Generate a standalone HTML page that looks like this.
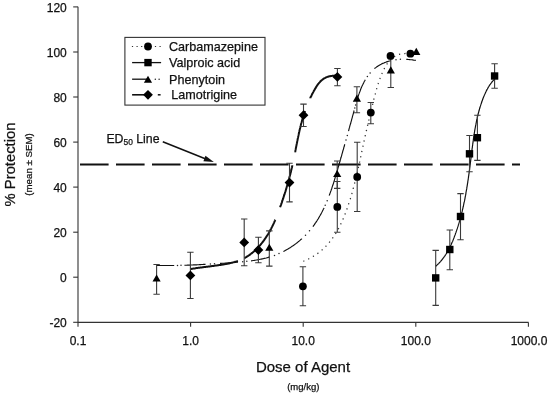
<!DOCTYPE html>
<html><head><meta charset="utf-8"><title>Dose response</title>
<style>
html,body{margin:0;padding:0;background:#fff;}
body{width:550px;height:393px;overflow:hidden;}
svg{display:block;}
text{font-family:"Liberation Sans",Arial,Helvetica,sans-serif;fill:#111;stroke:#111;stroke-width:0.25px;}
</style></head><body>
<svg width="550" height="393" viewBox="0 0 550 393">
<rect width="550" height="393" fill="#fff"/>
<g stroke="#333" stroke-width="1.1" fill="none">
<path d="M78.0,6.7 V322.4 H528.6"/>
<path d="M73.2,322.3 H78.0"/>
<path d="M73.2,277.2 H78.0"/>
<path d="M73.2,232.2 H78.0"/>
<path d="M73.2,187.1 H78.0"/>
<path d="M73.2,142.1 H78.0"/>
<path d="M73.2,97.0 H78.0"/>
<path d="M73.2,52.0 H78.0"/>
<path d="M73.2,6.9 H78.0"/>
<path d="M78.0,322.4 V326.7"/>
<path d="M190.6,322.4 V326.7"/>
<path d="M303.2,322.4 V326.7"/>
<path d="M415.8,322.4 V326.7"/>
<path d="M528.4,322.4 V326.7"/>
</g>
<g font-size="12" text-anchor="end">
<text x="66.8" y="327.1">-20</text>
<text x="66.8" y="282.0">0</text>
<text x="66.8" y="237.0">20</text>
<text x="66.8" y="191.9">40</text>
<text x="66.8" y="146.9">60</text>
<text x="66.8" y="101.8">80</text>
<text x="66.8" y="56.8">100</text>
<text x="66.8" y="11.7">120</text>
</g>
<g font-size="12" text-anchor="middle">
<text x="78.0" y="344.9">0.1</text>
<text x="190.6" y="344.9">1.0</text>
<text x="303.2" y="344.9">10.0</text>
<text x="415.8" y="344.9">100.0</text>
<text x="529.0" y="344.9">1000.0</text>
</g>
<text x="303.0" y="372" font-size="15" text-anchor="middle">Dose of Agent</text>
<text x="303.3" y="390.3" font-size="9.5" text-anchor="middle">(mg/kg)</text>
<text transform="translate(14.9,164.5) rotate(-90)" font-size="14.8" text-anchor="middle">% Protection</text>
<text transform="translate(32.0,164.5) rotate(-90)" font-size="9.7" text-anchor="middle">(mean ± SEM)</text>
<path d="M80,164.6 H520" stroke="#111" stroke-width="2" stroke-dasharray="28.6 7.4" fill="none"/>
<text x="106.4" y="142.7" font-size="12.3">ED<tspan font-size="8.4" dy="2.6">50</tspan><tspan dy="-2.6"> Line</tspan></text>
<path d="M162.8,141.7 L209,160.2" stroke="#111" stroke-width="1.5" fill="none"/>
<path d="M213.8,162.1 L203.4,161.2 L205.5,155.8 Z" fill="#111"/>
<path d="M156.4,265.4 L156.4,265.4 L157.5,265.4 L158.5,265.4 L159.6,265.5 L160.6,265.5 L161.7,265.5 L162.7,265.5 L163.7,265.5 L164.8,265.5 L165.8,265.5 L166.8,265.5 L167.8,265.5 L168.9,265.5 L169.9,265.5 L170.9,265.5 L172.0,265.5 L173.0,265.5 L174.0,265.5 L174.2,265.5 M184.4,265.2 L184.4,265.2 L185.4,265.2 L186.5,265.2 L187.5,265.1 L188.5,265.1 L189.5,265.1 L190.5,265.0 L191.5,265.0 L192.5,265.0 L193.5,264.9 L194.6,264.9 L195.6,264.8 L196.6,264.8 L197.6,264.7 L198.6,264.7 L199.6,264.6 L200.6,264.6 L201.6,264.5 L202.6,264.5 L203.6,264.4 L204.7,264.4 L205.6,264.3 M220.0,263.4 L220.1,263.4 L221.1,263.4 L222.2,263.3 L223.2,263.2 L224.2,263.2 L225.2,263.1 L226.2,263.0 L227.3,263.0 L228.3,262.9 L229.3,262.8 L230.3,262.7 L231.4,262.7 L232.4,262.6 L233.4,262.5 L234.5,262.4 L235.5,262.4 L236.5,262.3 L237.6,262.2 L238.0,262.2 M251.0,260.8 L251.1,260.8 L252.1,260.7 L253.1,260.5 L254.2,260.4 L255.2,260.2 L256.2,260.0 L257.2,259.9 L258.2,259.7 L259.2,259.5 L260.2,259.3 L261.2,259.1 L262.2,258.9 L263.2,258.7 L264.2,258.4 L265.2,258.2 L266.2,258.0 L267.2,257.7 L268.2,257.4 L269.1,257.1 L269.5,257.0 M283.4,251.5 L283.5,251.5 L284.4,251.0 L285.2,250.5 L286.1,250.0 L287.0,249.5 L287.9,249.0 L288.7,248.5 L289.6,248.0 L290.5,247.5 L291.3,246.9 L292.1,246.3 L293.0,245.8 L293.8,245.2 L294.6,244.6 L295.4,244.0 L296.3,243.4 L297.1,242.8 L297.8,242.1 L298.6,241.5 L299.4,240.9 L300.2,240.2 L300.9,239.5 L301.7,238.9 L301.9,238.7 M312.9,226.6 L313.0,226.5 L313.6,225.7 L314.2,224.9 L314.7,224.1 L315.3,223.2 L315.9,222.4 L316.4,221.6 L317.0,220.7 L317.5,219.8 L318.1,219.0 L318.6,218.1 L319.1,217.2 L319.6,216.3 L320.1,215.5 L320.6,214.6 L321.1,213.7 L321.6,212.8 L322.1,211.8 L322.5,210.9 L323.0,210.0 L323.4,209.1 L323.9,208.2 L324.0,207.9 M329.2,195.6 L329.2,195.5 L329.6,194.6 L329.9,193.6 L330.3,192.6 L330.6,191.6 L331.0,190.7 L331.3,189.7 L331.7,188.7 L332.0,187.7 L332.3,186.7 L332.6,185.7 L333.0,184.8 L333.3,183.8 L333.6,182.8 L333.9,181.8 L334.2,180.8 L334.5,179.8 L334.8,178.8 L335.1,177.8 L335.4,176.8 L335.7,175.8 L336.0,174.8 L336.3,173.9 L336.6,172.9 L336.9,171.9 L337.2,170.9 L337.5,169.9 L337.8,168.9 L338.0,167.9 L338.3,167.0 L338.6,166.0 L338.9,165.0 L339.2,164.0 L339.4,163.1 L339.7,162.1 L340.0,161.1 L340.3,160.1 L340.6,159.2 L340.8,158.2 L341.1,157.3 L341.4,156.3 L341.7,155.3 L341.9,154.4 L342.2,153.4 L342.5,152.5 L342.7,151.5 L343.0,150.5 L343.3,149.6 L343.6,148.6 L343.8,147.7 L344.1,146.7 L344.4,145.8 L344.6,144.8 L344.8,144.3 M348.5,131.1 L348.5,131.1 L348.8,130.1 L349.0,129.1 L349.3,128.1 L349.6,127.2 L349.8,126.2 L350.1,125.2 L350.4,124.2 L350.7,123.3 L350.9,122.3 L351.2,121.3 L351.5,120.3 L351.7,119.3 L352.0,118.3 L352.3,117.3 L352.5,116.3 L352.8,115.3 L353.1,114.3 L353.4,113.3 L353.6,112.3 L353.9,111.3 L354.1,110.5 M357.5,98.5 L357.5,98.5 L357.8,97.5 L358.2,96.4 L358.5,95.4 L358.8,94.4 L359.2,93.4 L359.5,92.4 L359.9,91.5 L360.3,90.5 L360.6,89.5 L361.0,88.5 L361.4,87.6 L361.8,86.6 L362.2,85.7 L362.7,84.8 L363.1,83.9 L363.6,82.9 L364.0,82.0 L364.5,81.2 L365.0,80.3 L365.3,79.7 M374.5,68.6 L374.5,68.5 L375.3,67.9 L376.1,67.4 L376.9,66.8 L377.7,66.2 L378.5,65.7 L379.3,65.2 L380.2,64.7 L381.1,64.3 L381.9,63.8 L382.8,63.4 L383.8,63.0 L384.7,62.6 L385.6,62.3 L386.6,61.9 L387.5,61.6 L388.5,61.3 L389.5,61.0 L390.5,60.8 L390.8,60.7 M406.3,59.3 L406.4,59.3 L407.4,59.4 L408.5,59.5 L409.5,59.6 L410.5,59.7 L411.6,59.8 L412.6,59.9 L413.6,60.1 L414.6,60.2 L415.6,60.4 L415.8,60.5" stroke="#111" stroke-width="1.15" fill="none"/>
<g fill="#222"><circle cx="177.5" cy="265.4" r="0.75"/><circle cx="181.0" cy="265.3" r="0.75"/><circle cx="210.4" cy="264.1" r="0.75"/><circle cx="214.5" cy="263.8" r="0.75"/><circle cx="242.7" cy="261.8" r="0.75"/><circle cx="246.8" cy="261.3" r="0.75"/><circle cx="274.5" cy="255.4" r="0.75"/><circle cx="279.0" cy="253.6" r="0.75"/><circle cx="305.5" cy="235.2" r="0.75"/><circle cx="309.5" cy="230.8" r="0.75"/><circle cx="325.2" cy="205.3" r="0.75"/><circle cx="327.2" cy="200.7" r="0.75"/><circle cx="346.0" cy="140.0" r="0.75"/><circle cx="347.3" cy="135.4" r="0.75"/><circle cx="354.8" cy="107.9" r="0.75"/><circle cx="355.6" cy="105.0" r="0.75"/><circle cx="367.4" cy="76.4" r="0.75"/><circle cx="370.1" cy="72.9" r="0.75"/><circle cx="396.0" cy="59.7" r="0.75"/><circle cx="400.4" cy="59.3" r="0.75"/></g>
<path d="M303.2,261.3 L303.2,261.3 L303.9,261.0 L304.5,260.7 L305.2,260.5 L305.9,260.2 L306.5,259.9 L307.2,259.6 L307.8,259.3 L308.4,259.0 L309.0,258.7 L309.7,258.4 L310.3,258.1 L310.9,257.8 L311.5,257.4 L312.1,257.1 L312.7,256.7 L313.2,256.4 L313.8,256.0 L314.4,255.7 L315.0,255.3 L315.5,255.0 L316.1,254.6 L316.6,254.2 L317.2,253.8 L317.7,253.4 L318.2,253.0 L318.8,252.6 L319.3,252.2 L319.8,251.8 L320.3,251.4 L320.8,251.0 L321.3,250.6 L321.8,250.1 L322.3,249.7 L322.8,249.3 L323.3,248.8 L323.7,248.4 L324.2,247.9 L324.7,247.5 L325.1,247.0 L325.6,246.6 L326.0,246.1 L326.5,245.6 L326.9,245.1 L327.4,244.7 L327.8,244.2 L328.2,243.7 L328.6,243.2 L329.1,242.7 L329.5,242.2 L329.9,241.7 L330.3,241.2 L330.7,240.7 L331.1,240.2 L331.5,239.6 L331.9,239.1 L332.3,238.6 L332.6,238.1 L333.0,237.5 L333.4,237.0 L333.7,236.4 L334.1,235.9 L334.5,235.4 L334.8,234.8 L335.2,234.3 L335.5,233.7 L335.9,233.1 L336.2,232.6 L336.5,232.0 L336.9,231.5 L337.2,230.9 L337.5,230.3 L337.9,229.7 L338.2,229.2 L338.5,228.6 L338.8,228.0 L339.1,227.4 L339.4,226.8 L339.7,226.2 L340.0,225.6 L340.3,225.0 L340.6,224.4 L340.9,223.8 L341.2,223.2 L341.5,222.6 L341.8,222.0 L342.0,221.4 L342.3,220.8 L342.6,220.2 L342.8,219.6 L343.1,219.0 L343.4,218.4 L343.6,217.7 L343.9,217.1 L344.1,216.5 L344.4,215.9 L344.6,215.2 L344.9,214.6 L345.1,214.0 L345.4,213.4 L345.6,212.7 L345.9,212.1 L346.1,211.5 L346.3,210.8 L346.6,210.2 L346.8,209.6 L347.0,208.9 L347.2,208.3 L347.5,207.6 L347.7,207.0 L347.9,206.4 L348.1,205.7 L348.3,205.1 L348.5,204.4 L348.7,203.8 L349.0,203.2 L349.2,202.5 L349.4,201.9 L349.6,201.2 L349.8,200.6 L350.0,199.9 L350.2,199.3 L350.4,198.6 L350.6,198.0 L350.8,197.3 L350.9,196.7 L351.1,196.0 L351.3,195.4 L351.5,194.8 L351.7,194.1 L351.9,193.5 L352.1,192.8 L352.2,192.2 L352.4,191.5 L352.6,190.9 L352.8,190.2 L353.0,189.6 L353.1,188.9 L353.3,188.3 L353.5,187.6 L353.7,187.0 L353.8,186.3 L354.0,185.7 L354.2,185.0 L354.3,184.4 L354.5,183.7 L354.7,183.1 L354.8,182.4 L355.0,181.8 L355.2,181.1 L355.3,180.5 L355.5,179.8 L355.6,179.2 L355.8,178.5 L356.0,177.9 L356.1,177.2 L356.3,176.6 L356.4,175.9 L356.6,175.3 L356.7,174.6 L356.9,174.0 L357.0,173.3 L357.2,172.7 L357.3,172.0 L357.5,171.4 L357.6,170.7 L357.8,170.1 L357.9,169.4 L358.1,168.8 L358.2,168.1 L358.4,167.5 L358.5,166.8 L358.7,166.2 L358.8,165.5 L358.9,164.9 L359.1,164.2 L359.2,163.6 L359.4,162.9 L359.5,162.3 L359.7,161.7 L359.8,161.0 L359.9,160.4 L360.1,159.7 L360.2,159.1 L360.4,158.4 L360.5,157.8 L360.6,157.1 L360.8,156.5 L360.9,155.8 L361.1,155.2 L361.2,154.5 L361.3,153.9 L361.5,153.2 L361.6,152.6 L361.7,151.9 L361.9,151.3 L362.0,150.7 L362.2,150.0 L362.3,149.4 L362.4,148.7 L362.6,148.1 L362.7,147.4 L362.8,146.8 L363.0,146.2 L363.1,145.5 L363.3,144.9 L363.4,144.2 L363.5,143.6 L363.7,142.9 L363.8,142.3 L364.0,141.7 L364.1,141.0 L364.2,140.4 L364.4,139.7 L364.5,139.1 L364.7,138.5 L364.8,137.8 L364.9,137.2 L365.1,136.5 L365.2,135.9 L365.4,135.3 L365.5,134.6 L365.6,134.0 L365.8,133.3 L365.9,132.7 L366.1,132.1 L366.2,131.4 L366.4,130.8 L366.5,130.2 L366.7,129.5 L366.8,128.9 L366.9,128.2 L367.1,127.6 L367.2,127.0 L367.4,126.3 L367.5,125.7 L367.7,125.1 L367.8,124.4 L368.0,123.8 L368.1,123.1 L368.3,122.5 L368.4,121.9 L368.6,121.2 L368.7,120.6 L368.9,119.9 L369.0,119.3 L369.2,118.7 L369.3,118.0 L369.5,117.4 L369.6,116.7 L369.8,116.1 L369.9,115.5 L370.1,114.8 L370.2,114.2 L370.4,113.5 L370.6,112.9 L370.7,112.2 L370.9,111.6 L371.0,110.9 L371.2,110.3 L371.3,109.6 L371.5,109.0 L371.7,108.4 L371.8,107.7 L372.0,107.1 L372.1,106.4 L372.3,105.8 L372.5,105.1 L372.6,104.4 L372.8,103.8 L372.9,103.1 L373.1,102.5 L373.3,101.8 L373.4,101.2 L373.6,100.5 L373.8,99.9 L373.9,99.2 L374.1,98.5 L374.3,97.9 L374.4,97.2 L374.6,96.5 L374.8,95.9 L374.9,95.2 L375.1,94.6 L375.3,93.9 L375.5,93.2 L375.6,92.6 L375.8,91.9 L376.0,91.2 L376.2,90.6 L376.3,89.9 L376.5,89.2 L376.7,88.6 L376.9,87.9 L377.1,87.3 L377.3,86.6 L377.5,85.9 L377.7,85.3 L377.9,84.6 L378.1,84.0 L378.3,83.3 L378.5,82.7 L378.7,82.0 L378.9,81.4 L379.1,80.7 L379.4,80.1 L379.6,79.4 L379.8,78.8 L380.1,78.2 L380.3,77.5 L380.5,76.9 L380.8,76.3 L381.0,75.6 L381.3,75.0 L381.5,74.4 L381.8,73.8 L382.1,73.2 L382.3,72.6 L382.6,71.9 L382.9,71.3 L383.2,70.7 L383.5,70.1 L383.8,69.6 L384.1,69.0 L384.4,68.4 L384.7,67.8 L385.0,67.2 L385.3,66.7 L385.7,66.1 L386.0,65.6 L386.3,65.0 L386.7,64.5 L387.1,64.0 L387.4,63.5 L387.8,62.9 L388.2,62.4 L388.6,61.9 L389.0,61.5 L389.4,61.0 L389.8,60.5 L390.2,60.1 L390.6,59.6 L391.1,59.2 L391.5,58.8 L392.0,58.4 L392.4,58.0 L392.9,57.6 L393.4,57.3 L393.9,56.9 L394.4,56.6 L394.9,56.3 L395.4,56.0 L396.0,55.7 L396.5,55.4 L397.1,55.1 L397.6,54.9 L398.2,54.7 L398.8,54.5 L399.4,54.3 L400.0,54.1 L400.6,54.0 L401.3,53.8 L401.9,53.7 L402.6,53.6 L403.3,53.5 L403.9,53.5 L404.7,53.5 L405.4,53.4 L406.1,53.4 L406.8,53.5 L407.6,53.5 L408.4,53.6 L409.1,53.7 L409.9,53.8 L410.7,53.9" stroke="#333" stroke-width="1.25" fill="none" stroke-dasharray="1.25 4.15"/>
<path d="M435.7,266.3 L435.7,266.3 L436.1,265.9 L436.5,265.6 L436.9,265.2 L437.3,264.8 L437.7,264.4 L438.1,264.1 L438.5,263.7 L438.9,263.3 L439.2,262.9 L439.6,262.5 L440.0,262.1 L440.3,261.7 L440.7,261.3 L441.0,260.9 L441.4,260.5 L441.7,260.1 L442.1,259.7 L442.4,259.2 L442.7,258.8 L443.0,258.4 L443.4,258.0 L443.7,257.5 L444.0,257.1 L444.3,256.7 L444.6,256.3 L444.9,255.8 L445.2,255.4 L445.5,254.9 L445.8,254.5 L446.1,254.0 L446.3,253.6 L446.6,253.2 L446.9,252.7 L447.2,252.2 L447.4,251.8 L447.7,251.3 L448.0,250.9 L448.2,250.4 L448.5,249.9 L448.7,249.5 L449.0,249.0 L449.2,248.5 L449.4,248.1 L449.7,247.6 L449.9,247.1 L450.2,246.7 L450.4,246.2 L450.6,245.7 L450.8,245.2 L451.1,244.7 L451.3,244.3 L451.5,243.8 L451.7,243.3 L451.9,242.8 L452.1,242.3 L452.4,241.8 L452.6,241.4 L452.8,240.9 L453.0,240.4 L453.2,239.9 L453.4,239.4 L453.6,238.9 L453.8,238.4 L454.0,237.9 L454.1,237.4 L454.3,236.9 L454.5,236.4 L454.7,235.9 L454.9,235.4 L455.1,234.9 L455.3,234.4 L455.4,233.9 L455.6,233.4 L455.8,232.9 L456.0,232.4 L456.1,231.9 L456.3,231.4 L456.5,230.9 L456.6,230.4 L456.8,229.9 L457.0,229.4 L457.2,228.9 L457.3,228.4 L457.5,227.9 L457.6,227.4 L457.8,226.9 L458.0,226.4 L458.1,225.9 L458.3,225.4 L458.4,224.9 L458.6,224.4 L458.7,223.9 L458.9,223.4 L459.0,222.9 L459.2,222.4 L459.3,221.9 L459.5,221.4 L459.6,220.9 L459.8,220.4 L459.9,219.9 L460.1,219.3 L460.2,218.8 L460.3,218.3 L460.5,217.8 L460.6,217.3 L460.8,216.8 L460.9,216.3 L461.0,215.8 L461.2,215.3 L461.3,214.8 L461.4,214.2 L461.5,213.7 L461.7,213.2 L461.8,212.7 L461.9,212.2 L462.1,211.7 L462.2,211.2 L462.3,210.7 L462.4,210.1 L462.5,209.6 L462.7,209.1 L462.8,208.6 L462.9,208.1 L463.0,207.6 L463.1,207.1 L463.3,206.5 L463.4,206.0 L463.5,205.5 L463.6,205.0 L463.7,204.5 L463.8,204.0 L463.9,203.4 L464.0,202.9 L464.1,202.4 L464.3,201.9 L464.4,201.4 L464.5,200.9 L464.6,200.3 L464.7,199.8 L464.8,199.3 L464.9,198.8 L465.0,198.3 L465.1,197.7 L465.2,197.2 L465.3,196.7 L465.4,196.2 L465.5,195.7 L465.6,195.1 L465.7,194.6 L465.8,194.1 L465.9,193.6 L465.9,193.1 L466.0,192.5 L466.1,192.0 L466.2,191.5 L466.3,191.0 L466.4,190.4 L466.5,189.9 L466.6,189.4 L466.7,188.9 L466.8,188.3 L466.8,187.8 L466.9,187.3 L467.0,186.8 L467.1,186.3 L467.2,185.7 L467.3,185.2 L467.4,184.7 L467.4,184.2 L467.5,183.6 L467.6,183.1 L467.7,182.6 L467.8,182.0 L467.8,181.5 L467.9,181.0 L468.0,180.5 L468.1,179.9 L468.2,179.4 L468.2,178.9 L468.3,178.4 L468.4,177.8 L468.5,177.3 L468.5,176.8 L468.6,176.2 L468.7,175.7 L468.8,175.2 L468.8,174.7 L468.9,174.1 L469.0,173.6 L469.1,173.1 L469.1,172.5 L469.2,172.0 L469.3,171.5 L469.3,171.0 L469.4,170.4 L469.5,169.9 L469.6,169.4 L469.6,168.8 L469.7,168.3 L469.8,167.8 L469.8,167.3 L469.9,166.7 L470.0,166.2 L470.0,165.7 L470.1,165.1 L470.2,164.6 L470.2,164.1 L470.3,163.5 L470.4,163.0 L470.4,162.5 L470.5,161.9 L470.6,161.4 L470.6,160.9 L470.7,160.3 L470.8,159.8 L470.8,159.3 L470.9,158.7 L471.0,158.2 L471.0,157.7 L471.1,157.2 L471.2,156.6 L471.2,156.1 L471.3,155.6 L471.4,155.0 L471.4,154.5 L471.5,154.0 L471.6,153.4 L471.6,152.9 L471.7,152.4 L471.8,151.8 L471.8,151.3 L471.9,150.8 L471.9,150.2 L472.0,149.7 L472.1,149.2 L472.1,148.6 L472.2,148.1 L472.3,147.6 L472.4,147.0 L472.4,146.5 L472.5,146.0 L472.6,145.4 L472.6,144.9 L472.7,144.4 L472.8,143.8 L472.8,143.3 L472.9,142.8 L473.0,142.3 L473.1,141.7 L473.1,141.2 L473.2,140.7 L473.3,140.1 L473.4,139.6 L473.4,139.1 L473.5,138.5 L473.6,138.0 L473.7,137.5 L473.7,137.0 L473.8,136.4 L473.9,135.9 L474.0,135.4 L474.1,134.8 L474.1,134.3 L474.2,133.8 L474.3,133.3 L474.4,132.7 L474.5,132.2 L474.6,131.7 L474.6,131.2 L474.7,130.6 L474.8,130.1 L474.9,129.6 L475.0,129.1 L475.1,128.5 L475.2,128.0 L475.3,127.5 L475.4,127.0 L475.5,126.4 L475.6,125.9 L475.7,125.4 L475.8,124.9 L475.9,124.4 L476.0,123.8 L476.1,123.3 L476.2,122.8 L476.3,122.3 L476.4,121.8 L476.5,121.2 L476.6,120.7 L476.7,120.2 L476.8,119.7 L476.9,119.2 L477.1,118.7 L477.2,118.1 L477.3,117.6 L477.4,117.1 L477.5,116.6 L477.7,116.1 L477.8,115.6 L477.9,115.1 L478.0,114.6 L478.2,114.0 L478.3,113.5 L478.4,113.0 L478.6,112.5 L478.7,112.0 L478.8,111.5 L479.0,111.0 L479.1,110.5 L479.3,110.0 L479.4,109.5 L479.5,109.0 L479.7,108.5 L479.8,108.0 L480.0,107.5 L480.1,106.9 L480.3,106.4 L480.5,105.9 L480.6,105.4 L480.8,104.9 L480.9,104.4 L481.1,103.9 L481.3,103.5 L481.4,103.0 L481.6,102.5 L481.8,102.0 L481.9,101.5 L482.1,101.0 L482.3,100.5 L482.5,100.0 L482.7,99.5 L482.8,99.0 L483.0,98.5 L483.2,98.0 L483.4,97.5 L483.6,97.1 L483.8,96.6 L484.0,96.1 L484.2,95.6 L484.4,95.1 L484.6,94.6 L484.8,94.2 L485.0,93.7 L485.3,93.2 L485.5,92.7 L485.7,92.2 L485.9,91.8 L486.2,91.3 L486.4,90.8 L486.6,90.4 L486.9,89.9 L487.1,89.4 L487.4,89.0 L487.6,88.5 L487.9,88.1 L488.1,87.6 L488.4,87.1 L488.7,86.7 L489.0,86.3 L489.2,85.8 L489.5,85.4 L489.8,84.9 L490.1,84.5 L490.4,84.1 L490.7,83.6 L491.1,83.2 L491.4,82.8 L491.7,82.4 L492.0,81.9 L492.4,81.5 L492.7,81.1 L493.1,80.7 L493.4,80.3 L493.8,79.9 L494.4,79.7" stroke="#111" stroke-width="1.2" fill="none"/>
<path d="M190.5,269.0 L190.5,269.0 L191.2,268.9 L191.9,268.8 L192.6,268.7 L193.3,268.6 L194.0,268.5 L194.7,268.4 L195.5,268.3 L196.2,268.1 L196.9,268.0 L197.6,267.9 L198.3,267.8 L199.0,267.8 L199.7,267.7 L200.4,267.6 L201.2,267.5 L201.9,267.4 L202.6,267.3 L203.3,267.2 L204.0,267.1 L204.7,267.0 L205.5,266.9 L206.2,266.8 L206.9,266.7 L207.6,266.7 L208.4,266.6 L209.1,266.5 L209.8,266.4 L210.5,266.3 L211.2,266.2 L212.0,266.1 L212.7,266.0 L213.4,265.9 L214.1,265.8 L214.8,265.7 L215.6,265.6 L216.3,265.5 L217.0,265.4 L217.7,265.3 L218.4,265.2 L219.1,265.1 L219.9,265.0 L220.6,264.9 L221.3,264.8 L222.0,264.7 L222.7,264.6 L223.4,264.5 L224.1,264.3 L224.8,264.2 L225.5,264.1 L226.2,263.9 L226.9,263.8 L227.7,263.7 L228.4,263.5 L229.0,263.4 L229.7,263.2 L230.4,263.1 L231.1,262.9 L231.8,262.7 L232.5,262.6 L233.2,262.4 L233.9,262.2 L234.6,262.0 L235.2,261.8 L235.9,261.6 L236.6,261.4 L237.3,261.1 L237.9,260.9 M244.3,258.1 L244.3,258.1 L245.0,257.8 L245.6,257.4 L246.2,257.1 L246.8,256.7 L247.4,256.3 L248.1,255.9 L248.7,255.5 L249.3,255.1 L249.9,254.7 L250.4,254.2 L251.0,253.8 L251.6,253.3 L252.2,252.9 L252.7,252.4 L253.3,251.9 L253.9,251.4 L254.4,251.0 L255.0,250.5 L255.5,250.0 L256.0,249.4 L256.6,248.9 L257.1,248.4 L257.6,247.9 L258.1,247.3 L258.6,246.8 L259.1,246.3 L259.6,245.7 L260.1,245.2 L260.6,244.6 L261.1,244.0 L261.5,243.5 L262.0,242.9 L262.4,242.3 L262.9,241.8 L263.3,241.2 L263.8,240.6 L264.2,240.0 L264.6,239.4 L265.0,238.8 L265.4,238.2 L265.8,237.6 L266.2,237.0 L266.6,236.4 L267.0,235.8 L267.4,235.2 L267.8,234.6 L268.2,234.0 L268.5,233.4 L268.9,232.8 L269.3,232.1 L269.6,231.5 L270.0,230.9 L270.3,230.3 L270.6,229.6 L271.0,229.0 L271.3,228.4 L271.6,227.7 L271.9,227.1 L272.3,226.4 L272.6,225.8 L272.9,225.2 L273.2,224.5 L273.5,223.9 L273.8,223.2 L274.1,222.6 L274.4,221.9 L274.7,221.2 L275.0,220.6 L275.2,219.9 L275.3,219.8 M280.1,207.3 L280.1,207.3 L280.3,206.7 L280.6,206.0 L280.8,205.3 L281.1,204.6 L281.3,203.9 L281.5,203.3 L281.8,202.6 L282.0,201.9 L282.2,201.2 L282.5,200.5 L282.7,199.8 L282.9,199.2 L283.2,198.5 L283.4,197.8 L283.6,197.1 L283.8,196.4 L284.0,195.7 L284.3,195.0 L284.5,194.4 L284.7,193.7 L284.9,193.0 L285.1,192.3 L285.4,191.6 L285.6,190.9 L285.8,190.2 L286.0,189.5 L286.2,188.9 L286.4,188.2 L286.6,187.5 L286.8,186.8 L287.0,186.1 L287.2,185.4 L287.4,184.7 L287.6,184.0 L287.8,183.3 L288.0,182.6 L288.2,181.9 L288.4,181.2 L288.6,180.5 L288.8,179.8 L289.0,179.1 L289.2,178.4 L289.3,177.7 L289.5,177.0 L289.7,176.3 L289.9,175.7 L290.1,175.0 L290.3,174.3 L290.4,173.6 L290.6,172.9 L290.8,172.2 L291.0,171.5 L291.1,170.8 L291.3,170.0 L291.5,169.3 L291.6,168.6 L291.8,167.9 L292.0,167.2 L292.1,166.5 L292.3,165.8 L292.4,165.3 M295.1,152.3 L295.1,152.2 L295.3,151.5 L295.4,150.8 L295.5,150.1 L295.7,149.4 L295.8,148.7 L295.9,148.0 L296.1,147.3 L296.2,146.5 L296.4,145.8 L296.5,145.1 L296.6,144.4 L296.8,143.7 L296.9,143.0 L297.1,142.3 L297.2,141.6 L297.3,140.9 L297.5,140.2 L297.6,139.5 L297.8,138.8 L297.9,138.1 L298.1,137.4 L298.2,136.7 L298.4,135.9 L298.5,135.2 L298.7,134.5 L298.8,133.8 L299.0,133.1 L299.1,132.4 L299.3,131.7 L299.4,131.0 L299.6,130.3 L299.8,129.6 L299.9,128.9 L300.1,128.2 L300.3,127.5 L300.4,126.8 L300.6,126.1 L300.8,125.4 L300.9,124.7 L301.1,124.0 L301.3,123.3 L301.5,122.7 L301.7,122.0 L301.9,121.3 L302.0,120.6 L302.2,119.9 L302.4,119.2 L302.6,118.5 L302.8,117.8 L303.0,117.1 L303.2,116.4 L303.5,115.8 L303.7,115.1 L303.9,114.4 L304.1,113.7 L304.3,113.0 L304.5,112.3 L304.8,111.7 L305.0,111.0 M310.2,98.2 L310.2,98.1 L310.5,97.5 L310.8,96.8 L311.2,96.2 L311.5,95.5 L311.8,94.9 L312.1,94.2 L312.5,93.6 L312.8,92.9 L313.2,92.3 L313.5,91.7 L313.8,91.0 L314.2,90.4 L314.6,89.8 L314.9,89.1 L315.3,88.5 L315.7,87.9 L316.0,87.2 L316.4,86.6 L316.8,86.0 L317.2,85.4 L317.6,84.8 L318.1,84.2 L318.5,83.7 L318.9,83.1 L319.4,82.6 L319.9,82.1 L320.3,81.5 L320.8,81.0 L321.3,80.6 L321.9,80.1 L322.4,79.7 L322.9,79.2 L323.5,78.8 L324.1,78.4 L324.7,78.1 L325.3,77.8 L325.9,77.4 L326.6,77.2 L327.3,76.9 L328.0,76.7 L328.7,76.5 L329.4,76.3 L330.2,76.2 L330.9,76.0 L331.7,75.9 L332.4,75.8 L333.2,75.7 L333.9,75.7 L334.7,75.6 L335.4,75.6 L336.1,75.6 L336.8,75.5 L337.3,75.5" stroke="#111" stroke-width="2.0" fill="none"/>
<g stroke="#3a3a3a" stroke-width="1.1" fill="none">
<path d="M156.6,264.5 V294.2 M153.4,264.5 h6.4 M153.4,294.2 h6.4"/>
<path d="M269.3,230.9 V266.1 M266.1,230.9 h6.4 M266.1,266.1 h6.4"/>
<path d="M337.2,161.0 V188.4 M334.0,161.0 h6.4 M334.0,188.4 h6.4"/>
<path d="M356.9,86.7 V112.7 M353.7,86.7 h6.4 M353.7,112.7 h6.4"/>
<path d="M390.8,55.0 V87.5 M387.6,55.0 h6.4 M387.6,87.5 h6.4"/>
<path d="M302.9,266.7 V305.8 M299.7,266.7 h6.4 M299.7,305.8 h6.4"/>
<path d="M337.3,181.5 V232.3 M334.1,181.5 h6.4 M334.1,232.3 h6.4"/>
<path d="M357.2,142.3 V211.5 M354.0,142.3 h6.4 M354.0,211.5 h6.4"/>
<path d="M370.8,102.5 V123.7 M367.6,102.5 h6.4 M367.6,123.7 h6.4"/>
<path d="M435.7,250.4 V305.4 M432.5,250.4 h6.4 M432.5,305.4 h6.4"/>
<path d="M449.8,230.0 V269.7 M446.6,230.0 h6.4 M446.6,269.7 h6.4"/>
<path d="M460.5,193.6 V239.7 M457.3,193.6 h6.4 M457.3,239.7 h6.4"/>
<path d="M469.5,135.5 V171.8 M466.3,135.5 h6.4 M466.3,171.8 h6.4"/>
<path d="M477.4,115.3 V160.4 M474.2,115.3 h6.4 M474.2,160.4 h6.4"/>
<path d="M494.6,63.7 V88.3 M491.4,63.7 h6.4 M491.4,88.3 h6.4"/>
<path d="M190.4,252.2 V298.5 M187.2,252.2 h6.4 M187.2,298.5 h6.4"/>
<path d="M244.2,219.0 V265.8 M241.0,219.0 h6.4 M241.0,265.8 h6.4"/>
<path d="M258.4,237.2 V262.8 M255.2,237.2 h6.4 M255.2,262.8 h6.4"/>
<path d="M289.5,163.3 V201.9 M286.3,163.3 h6.4 M286.3,201.9 h6.4"/>
<path d="M303.5,104.1 V126.5 M300.3,104.1 h6.4 M300.3,126.5 h6.4"/>
<path d="M337.4,68.5 V85.7 M334.2,68.5 h6.4 M334.2,85.7 h6.4"/>
</g>
<g fill="#000">
<path d="M156.6,274.4 L160.7,281.5 L152.5,281.5 Z"/>
<path d="M269.3,243.7 L273.4,250.8 L265.2,250.8 Z"/>
<path d="M337.2,169.9 L341.3,177.0 L333.1,177.0 Z"/>
<path d="M356.9,94.6 L361.0,101.7 L352.8,101.7 Z"/>
<path d="M390.8,66.3 L394.9,73.4 L386.7,73.4 Z"/>
<path d="M416.3,47.8 L420.4,54.9 L412.2,54.9 Z"/>
<circle cx="302.9" cy="286.3" r="3.9"/>
<circle cx="337.3" cy="206.9" r="3.9"/>
<circle cx="357.2" cy="176.9" r="3.9"/>
<circle cx="370.8" cy="112.6" r="3.9"/>
<circle cx="390.5" cy="55.9" r="3.9"/>
<circle cx="410.4" cy="53.7" r="3.9"/>
<rect x="432.0" y="274.2" width="7.4" height="7.4"/>
<rect x="446.1" y="245.8" width="7.4" height="7.4"/>
<rect x="456.8" y="212.8" width="7.4" height="7.4"/>
<rect x="465.8" y="150.1" width="7.4" height="7.4"/>
<rect x="473.7" y="134.0" width="7.4" height="7.4"/>
<rect x="490.9" y="72.3" width="7.4" height="7.4"/>
<path d="M190.4,270.5 L195.3,275.4 L190.4,280.3 L185.5,275.4 Z"/>
<path d="M244.2,237.5 L249.1,242.4 L244.2,247.3 L239.3,242.4 Z"/>
<path d="M258.4,245.1 L263.3,250.0 L258.4,254.9 L253.5,250.0 Z"/>
<path d="M289.5,177.7 L294.4,182.6 L289.5,187.5 L284.6,182.6 Z"/>
<path d="M303.5,110.3 L308.4,115.2 L303.5,120.1 L298.6,115.2 Z"/>
<path d="M337.4,72.0 L342.3,76.9 L337.4,81.8 L332.5,76.9 Z"/>
</g>
<rect x="124.9" y="37.4" width="140.1" height="67.7" fill="#fff" stroke="#333" stroke-width="1.1"/>
<g stroke="#111" fill="none">
<path d="M131.9,46.5 H162" stroke="#333" stroke-width="1.1" stroke-dasharray="1.2 3.4"/>
<path d="M132.1,62.6 H161.1" stroke-width="1.3"/>
<path d="M132.1,79.2 H147" stroke-width="1.3"/>
<path d="M132.1,94.8 H147" stroke-width="1.6"/>
<path d="M157.8,94.8 H160.6" stroke-width="1.5"/>
</g>
<g fill="#222"><circle cx="155.3" cy="79.2" r="0.75"/><circle cx="159.1" cy="79.2" r="0.75"/></g>
<g fill="#000"><circle cx="148.0" cy="46.5" r="3.9"/></g>
<text x="169.0" y="50.9" font-size="12.6">Carbamazepine</text>
<g fill="#000"><rect x="144.3" y="58.9" width="7.4" height="7.4"/></g>
<text x="169.0" y="67.0" font-size="12.6">Valproic acid</text>
<g fill="#000"><path d="M148.0,75.7 L152.1,82.8 L143.9,82.8 Z"/></g>
<text x="169.0" y="83.7" font-size="12.6">Phenytoin</text>
<g fill="#000"><path d="M148.0,89.9 L152.9,94.8 L148.0,99.7 L143.1,94.8 Z"/></g>
<text x="171.2" y="99.2" font-size="12.6">Lamotrigine</text>
</svg></body></html>
